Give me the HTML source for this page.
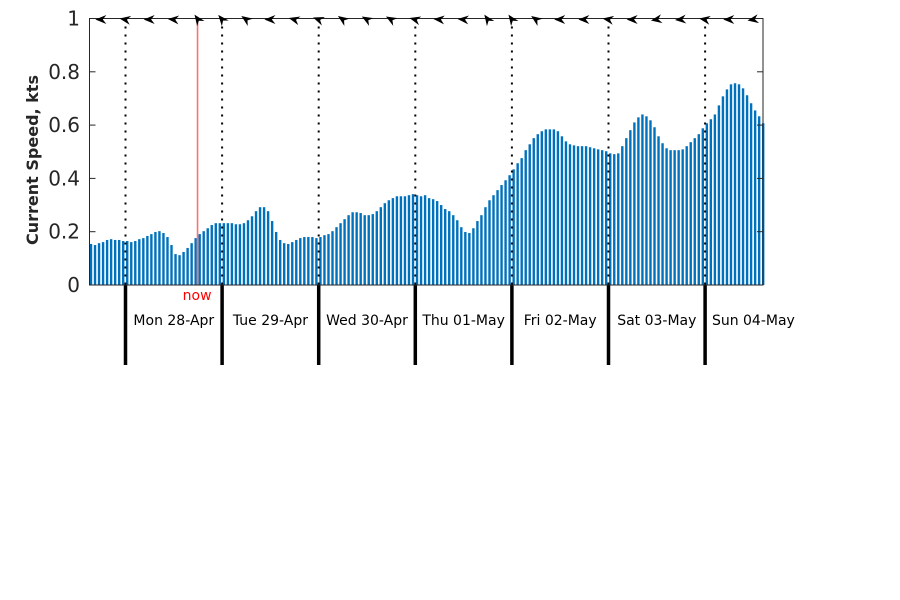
<!DOCTYPE html>
<html><head><meta charset="utf-8"><style>
body{margin:0;background:#fff;}
svg{display:block;font-family:"DejaVu Sans","Liberation Sans",sans-serif;}
</style></head><body>
<svg id="chart" width="900" height="600" viewBox="0 0 900 600">
<g id="bars"></g>
<g id="grid"></g>
<g id="axes"></g>
<g id="arrows"></g>
<text transform="translate(38,160) rotate(-90)" text-anchor="middle" font-size="16" font-weight="bold" fill="#262626">Current Speed, kts</text>
</svg>
<script>
const speeds = [0.154,0.15,0.157,0.161,0.169,0.172,0.169,0.169,0.165,0.165,0.161,0.165,0.172,0.176,0.184,0.191,0.199,0.202,0.195,0.18,0.15,0.116,0.112,0.124,0.139,0.157,0.176,0.191,0.202,0.213,0.225,0.232,0.232,0.232,0.232,0.232,0.228,0.228,0.232,0.243,0.258,0.277,0.292,0.292,0.277,0.24,0.199,0.169,0.157,0.154,0.161,0.169,0.176,0.18,0.18,0.18,0.176,0.18,0.187,
0.191,0.202,0.217,0.232,0.247,0.262,0.273,0.273,0.27,0.262,0.262,0.266,0.277,0.292,0.307,0.318,0.326,0.333,0.333,0.333,0.337,0.341,0.337,0.333,0.337,0.326,0.322,0.315,0.3,0.285,0.277,0.262,0.243,0.217,0.199,0.195,0.213,0.24,0.262,0.292,0.318,0.337,0.356,0.375,0.393,0.412,0.434,0.457,0.476,0.506,0.528,0.551,
0.566,0.577,0.584,0.584,0.584,0.577,0.558,0.539,0.528,0.524,0.521,0.521,0.521,0.517,0.513,0.509,0.506,0.502,0.494,0.491,0.494,0.521,0.551,0.581,0.61,0.629,0.64,0.633,0.618,0.592,0.558,0.532,0.513,0.506,0.506,0.506,0.509,0.521,0.536,0.551,0.566,0.588,0.607,0.622,0.64,0.674,0.708,0.734,0.753,0.757,0.753,0.738,0.712,0.682,0.655,0.633,0.607];
const startHour = -8.57;
const dayLabels = ["Mon 28-Apr","Tue 29-Apr","Wed 30-Apr","Thu 01-May","Fri 02-May","Sat 03-May","Sun 04-May"];
const yTicks = [0,0.2,0.4,0.6,0.8,1];
const yTickLabels = ["0","0.2","0.4","0.6","0.8","1"];
const nowHour = 17.9;
const arrowStartHour = -6;
const arrowAngles = [180,190,180,185,235,230,215,180,195,200,215,210,210,195,185,185,235,235,215,180,180,190,180,170,175,190,180,170];

const NS="http://www.w3.org/2000/svg";
const L=89.5,R=763,T=18.5,B=285;
const xScale=h=>125.5+h*4.025;
const yScale=v=>B-(v/1)*(B-T);
function mk(tag,parent,attrs){const e=document.createElementNS(NS,tag);for(const k in attrs)e.setAttribute(k,attrs[k]);parent.appendChild(e);return e;}
const gb=document.getElementById('bars'),gg=document.getElementById('grid'),ga=document.getElementById('axes'),gr=document.getElementById('arrows');

speeds.forEach((v,i)=>{
  const x=xScale(startHour+i);
  const r=mk('rect',gb,{x:Math.max(L,x-1.2),y:yScale(v),width:2.4,height:B-yScale(v),fill:'#0072BD'});
  
  
});

dayLabels.forEach((d,i)=>{
  const x=xScale(i*24);
  const dl=mk('line',gg,{x1:x,y1:T,x2:x,y2:B,stroke:'#000','stroke-width':2,'stroke-dasharray':'2 6'});
  
  
  const tl=mk('line',gg,{x1:x,y1:B,x2:x,y2:365,stroke:'#000','stroke-width':3.5});
  
  
  const t=mk('text',gg,{x:xScale(i*24+12),y:325,'text-anchor':'middle','font-size':14,fill:'#000'});
  t.textContent=d;
  
  
});

const nx=xScale(nowHour);
const nl=mk('line',gg,{x1:nx,y1:T,x2:nx,y2:B,stroke:'#ff7070','stroke-width':1.6});


const nt=mk('text',gg,{x:nx+14,y:300,'text-anchor':'end','font-size':14,fill:'#ff0000'});
nt.textContent='now';



const box=mk('path',ga,{d:`M${L},${T} H${R} V${B} H${L} Z`,fill:'none',stroke:'#262626','stroke-width':1});


yTicks.forEach((v,i)=>{
  const y=yScale(v);
  mk('line',ga,{x1:L,y1:y,x2:L+6,y2:y,stroke:'#262626'});
  mk('line',ga,{x1:R,y1:y,x2:R-6,y2:y,stroke:'#262626'});
  const t=mk('text',ga,{x:80,y:y+7,'text-anchor':'end','font-size':20,fill:'#262626'});
  t.textContent=yTickLabels[i];
  
  
});

arrowAngles.forEach((a,i)=>{
  const x=xScale(arrowStartHour+i*6);
  const p=mk('path',gr,{d:'M-6,0 L5,-4.5 L1.5,0 L5,4.5 Z',fill:'#000',transform:`translate(${x},${T+1}) rotate(${a-180})`});
  
  
});
</script>
</body></html>
